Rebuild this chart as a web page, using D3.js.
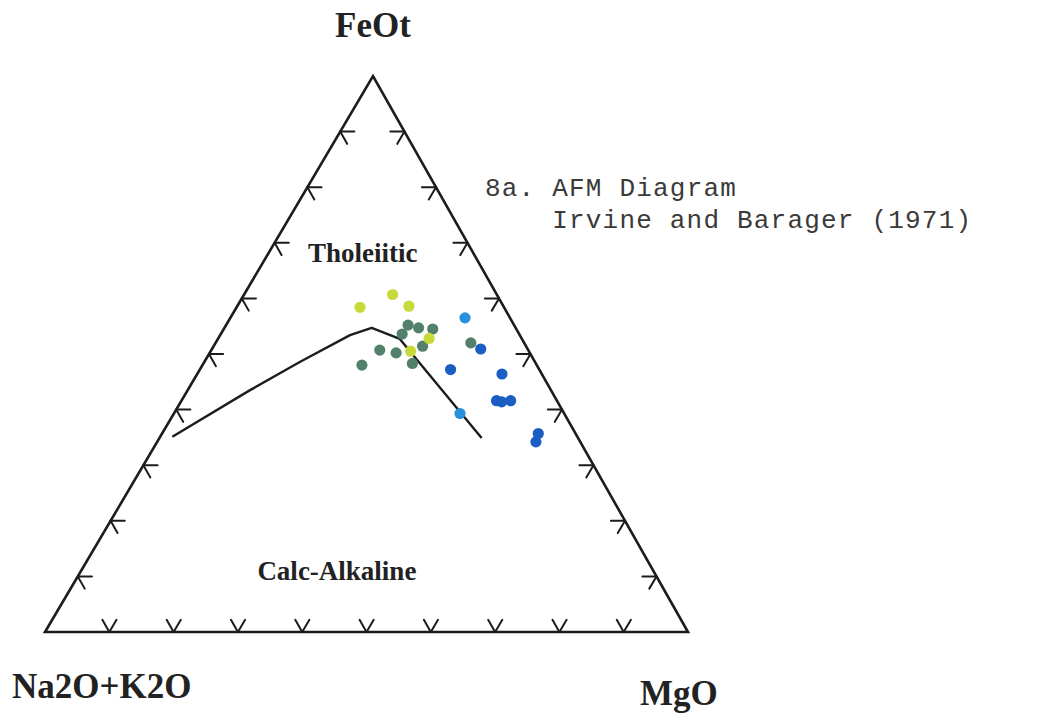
<!DOCTYPE html>
<html>
<head>
<meta charset="utf-8">
<script src="https://cdn.jsdelivr.net/npm/d3@7"></script>
<style>
  html, body { margin: 0; padding: 0; background: #fff; }
  svg { display: block; }
</style>
</head>
<body>
<div id="chart"></div>
<script>
// diagrama AFM (Irvine & Baragar 1971): valores em % [A, F, M]
const VERTEX_LABELS = ["Na2O+K2O", "FeOt", "MgO"];
const TICK_STEPS = [10, 20, 30, 40, 50, 60, 70, 80, 90];

const BOUNDARY = [
  [63.1, 35.1, 1.9],
  [46.8, 43.5, 9.7],
  [36.6, 48.6, 14.9],
  [26.4, 53.4, 20.2],
  [22.4, 54.7, 22.9],
  [19.0, 52.7, 28.3],
  [18.4, 50.0, 31.6],
  [15.0, 34.9, 50.1],
];

const SAMPLES_YELLOW = [
  [16.2, 60.7, 23.1],
  [22.4, 58.4, 19.2],
  [14.7, 58.6, 26.7],
  [14.4, 52.8, 32.8],
  [18.4, 50.5, 31.1],
];
const SAMPLES_GREEN = [
  [16.5, 55.2, 28.3],
  [15.1, 54.7, 30.2],
  [18.2, 53.6, 28.2],
  [13.0, 54.5, 32.5],
  [16.1, 51.4, 32.5],
  [23.1, 50.7, 26.2],
  [20.8, 50.2, 29.0],
  [27.2, 48.0, 24.8],
  [19.2, 48.3, 32.5],
  [8.3, 52.0, 39.7],
];
const SAMPLES_BLUE = [
  [7.3, 50.9, 41.8],
  [13.8, 47.2, 39.0],
  [6.2, 46.4, 47.4],
  [9.4, 41.6, 49.0],
  [8.7, 41.4, 49.9],
  [7.2, 41.6, 51.2],
  [5.8, 35.7, 58.5],
  [6.9, 34.2, 58.9],
];
const SAMPLES_LIGHTBLUE = [
  [7.0, 56.5, 36.5],
  [16.2, 39.3, 44.5],
];

const FIELD_LABELS = [
  { text: "Tholeiitic", at: [18.0, 66.5, 15.5] },
  { text: "Calc-Alkaline", at: [50.0, 9.4, 40.6] },
];

const W = 1060, H = 713;
const BASE_X = 45;
const INK = "#1c1c1c";

// projecao ternaria -> tela
const fy = d3.scaleLinear().domain([0, 100]).range([632, 76]);
const mx = d3.scaleLinear().domain([0, 100]).range([0, 643]);
const fx = d3.scaleLinear().domain([0, 100]).range([0, 328]);
const px = (d) => BASE_X + mx(d[2]) + fx(d[1]);
const py = (d) => fy(d[1]);

const svg = d3.select("#chart").append("svg").attr("width", W).attr("height", H);
svg.append("rect").attr("width", W).attr("height", H).attr("fill", "#fff");

const line = d3.line().x(px).y(py);

// triangulo
const corners = [[100, 0, 0], [0, 100, 0], [0, 0, 100]];
svg.append("path")
  .attr("d", line(corners) + "Z")
  .attr("fill", "none")
  .attr("stroke", INK)
  .attr("stroke-width", 2.6)
  .attr("stroke-linejoin", "miter");

// marcas: em cada lado (componente z = 0) dois bracos para dentro
const ARM = 2.2;
const ticks = [];
for (let z = 0; z < 3; z++) {
  const others = [0, 1, 2].filter((k) => k !== z);
  for (const s of TICK_STEPS) {
    const p = [0, 0, 0];
    p[others[0]] = s;
    p[others[1]] = 100 - s;
    for (const o of others) {
      const q = p.slice();
      q[z] += ARM;
      q[o] -= ARM;
      ticks.push([p, q]);
    }
  }
}
svg.append("g").selectAll("path").data(ticks).join("path")
  .attr("d", (d) => line(d))
  .attr("stroke", INK)
  .attr("stroke-width", 2)
  .attr("stroke-linecap", "round")
  .attr("fill", "none");

// linha divisoria
svg.append("path")
  .attr("d", line(BOUNDARY))
  .attr("fill", "none")
  .attr("stroke", INK)
  .attr("stroke-width", 2.4)
  .attr("stroke-linejoin", "round");

// amostras
const groups = [
  { data: SAMPLES_GREEN, color: "#52806a" },
  { data: SAMPLES_YELLOW, color: "#c8da3a" },
  { data: SAMPLES_LIGHTBLUE, color: "#2b90dc" },
  { data: SAMPLES_BLUE, color: "#1a5ec4" },
];
for (const g of groups) {
  svg.append("g").selectAll("circle").data(g.data).join("circle")
    .attr("cx", px)
    .attr("cy", py)
    .attr("r", 5.6)
    .attr("fill", g.color);
}

// rotulos
const serif = "'Liberation Serif', 'Times New Roman', serif";
svg.append("g").selectAll("text").data(FIELD_LABELS).join("text")
  .attr("x", (d) => px(d.at))
  .attr("y", (d) => py(d.at))
  .attr("text-anchor", "middle")
  .attr("font-family", serif)
  .attr("font-weight", "bold")
  .attr("font-size", 27)
  .attr("fill", "#222")
  .text((d) => d.text);

svg.append("text")
  .attr("x", px(corners[1])).attr("y", 37)
  .attr("text-anchor", "middle")
  .attr("font-family", serif).attr("font-weight", "bold").attr("font-size", 35)
  .attr("fill", "#222")
  .text(VERTEX_LABELS[1]);
svg.append("text")
  .attr("x", 12).attr("y", 698)
  .attr("font-family", serif).attr("font-weight", "bold").attr("font-size", 35)
  .attr("fill", "#222")
  .text(VERTEX_LABELS[0]);
svg.append("text")
  .attr("x", 640).attr("y", 705)
  .attr("font-family", serif).attr("font-weight", "bold").attr("font-size", 35)
  .attr("fill", "#222")
  .text(VERTEX_LABELS[2]);

const mono = "'Liberation Mono', 'Courier New', monospace";
const note = svg.append("text")
  .attr("font-family", mono).attr("font-size", 26).attr("letter-spacing", 1.2)
  .attr("fill", "#3a3a3a");
note.append("tspan").attr("x", 485).attr("y", 196).text("8a. AFM Diagram");
note.append("tspan").attr("x", 485 + 4 * 16.8).attr("y", 228).text("Irvine and Barager (1971)");
</script>
</body>
</html>
